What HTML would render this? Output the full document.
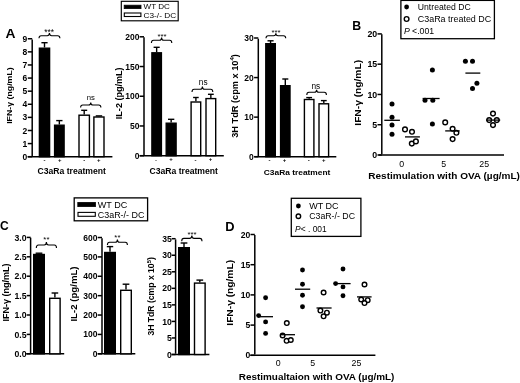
<!DOCTYPE html>
<html lang="en"><head><meta charset="utf-8"><title>Figure</title>
<style>html,body{margin:0;padding:0;background:#fff;}svg{display:block;}text{font-family:"Liberation Sans", sans-serif;fill:#000;}</style></head><body>
<svg width="520" height="383" viewBox="0 0 520 383">
<rect x="0" y="0" width="520" height="383" fill="#fff"/>
<defs><filter id="soft" x="0" y="0" width="520" height="383" filterUnits="userSpaceOnUse"><feGaussianBlur stdDeviation="0.45"/></filter></defs>
<g filter="url(#soft)">
<text x="5.60" y="37.50" font-size="12.4" text-anchor="start" font-weight="bold" textLength="10" lengthAdjust="spacingAndGlyphs" >A</text>
<rect x="121.30" y="1.30" width="56.90" height="19.50" fill="#fff" stroke="#000" stroke-width="1.15"/>
<rect x="124.20" y="5.20" width="16.80" height="3.40" fill="#000" stroke="#000" stroke-width="0.8"/>
<rect x="124.30" y="13.00" width="16.60" height="3.50" fill="#fff" stroke="#000" stroke-width="1.1"/>
<text x="143.60" y="9.10" font-size="8.1" text-anchor="start" textLength="26.3" lengthAdjust="spacingAndGlyphs" >WT DC</text>
<text x="143.60" y="17.50" font-size="8.1" text-anchor="start" textLength="32.5" lengthAdjust="spacingAndGlyphs" >C3-/- DC</text>
<line x1="32.20" y1="39.45" x2="32.20" y2="156.00" stroke="#000" stroke-width="1.5"/>
<line x1="27.80" y1="156.70" x2="32.20" y2="156.70" stroke="#000" stroke-width="1.5"/>
<text x="27.30" y="159.76" font-size="8.5" text-anchor="end" font-weight="bold" >0</text>
<line x1="27.80" y1="143.59" x2="32.20" y2="143.59" stroke="#000" stroke-width="1.5"/>
<text x="27.30" y="146.65" font-size="8.5" text-anchor="end" font-weight="bold" >1</text>
<line x1="27.80" y1="130.49" x2="32.20" y2="130.49" stroke="#000" stroke-width="1.5"/>
<text x="27.30" y="133.55" font-size="8.5" text-anchor="end" font-weight="bold" >2</text>
<line x1="27.80" y1="117.38" x2="32.20" y2="117.38" stroke="#000" stroke-width="1.5"/>
<text x="27.30" y="120.44" font-size="8.5" text-anchor="end" font-weight="bold" >3</text>
<line x1="27.80" y1="104.28" x2="32.20" y2="104.28" stroke="#000" stroke-width="1.5"/>
<text x="27.30" y="107.34" font-size="8.5" text-anchor="end" font-weight="bold" >4</text>
<line x1="27.80" y1="91.17" x2="32.20" y2="91.17" stroke="#000" stroke-width="1.5"/>
<text x="27.30" y="94.23" font-size="8.5" text-anchor="end" font-weight="bold" >5</text>
<line x1="27.80" y1="78.07" x2="32.20" y2="78.07" stroke="#000" stroke-width="1.5"/>
<text x="27.30" y="81.13" font-size="8.5" text-anchor="end" font-weight="bold" >6</text>
<line x1="27.80" y1="64.96" x2="32.20" y2="64.96" stroke="#000" stroke-width="1.5"/>
<text x="27.30" y="68.02" font-size="8.5" text-anchor="end" font-weight="bold" >7</text>
<line x1="27.80" y1="51.86" x2="32.20" y2="51.86" stroke="#000" stroke-width="1.5"/>
<text x="27.30" y="54.92" font-size="8.5" text-anchor="end" font-weight="bold" >8</text>
<line x1="27.80" y1="38.75" x2="32.20" y2="38.75" stroke="#000" stroke-width="1.5"/>
<text x="27.30" y="41.81" font-size="8.5" text-anchor="end" font-weight="bold" >9</text>
<line x1="27.70" y1="156.70" x2="112.40" y2="156.70" stroke="#000" stroke-width="1.5"/>
<line x1="44.50" y1="42.70" x2="44.50" y2="47.50" stroke="#000" stroke-width="1.4"/>
<line x1="41.40" y1="42.70" x2="47.60" y2="42.70" stroke="#000" stroke-width="1.4"/>
<rect x="39.40" y="48.20" width="10.20" height="108.50" fill="#000" stroke="#000" stroke-width="1.4"/>
<line x1="59.35" y1="120.60" x2="59.35" y2="124.50" stroke="#000" stroke-width="1.4"/>
<line x1="56.20" y1="120.60" x2="62.50" y2="120.60" stroke="#000" stroke-width="1.4"/>
<rect x="54.60" y="125.20" width="9.50" height="31.50" fill="#000" stroke="#000" stroke-width="1.4"/>
<line x1="84.20" y1="110.30" x2="84.20" y2="114.50" stroke="#000" stroke-width="1.4"/>
<line x1="81.20" y1="110.30" x2="87.20" y2="110.30" stroke="#000" stroke-width="1.4"/>
<rect x="79.00" y="115.20" width="10.40" height="41.50" fill="#fff" stroke="#000" stroke-width="1.4"/>
<line x1="98.95" y1="115.90" x2="98.95" y2="116.30" stroke="#000" stroke-width="1.4"/>
<line x1="95.73" y1="115.90" x2="102.17" y2="115.90" stroke="#000" stroke-width="1.4"/>
<rect x="93.90" y="117.00" width="10.10" height="39.70" fill="#fff" stroke="#000" stroke-width="1.4"/>
<path d="M39.00,38.30 Q39.00,35.70 41.20,35.70 L47.25,35.70 Q49.45,35.70 49.45,33.10 Q49.45,35.70 51.65,35.70 L57.70,35.70 Q59.90,35.70 59.90,38.30" fill="none" stroke="#000" stroke-width="1.1"/>
<text x="49.20" y="34.70" font-size="8.5" text-anchor="middle" >***</text>
<path d="M80.60,107.60 Q80.60,105.00 82.80,105.00 L88.55,105.00 Q90.75,105.00 90.75,102.40 Q90.75,105.00 92.95,105.00 L98.70,105.00 Q100.90,105.00 100.90,107.60" fill="none" stroke="#000" stroke-width="1.1"/>
<text x="90.80" y="99.60" font-size="7.7" text-anchor="middle" >ns</text>
<text x="44.50" y="162.20" font-size="6.0" text-anchor="middle" font-weight="bold" fill="#333">-</text>
<text x="59.70" y="161.90" font-size="6.0" text-anchor="middle" font-weight="bold" fill="#333">+</text>
<text x="84.20" y="162.20" font-size="6.0" text-anchor="middle" font-weight="bold" fill="#333">-</text>
<text x="98.80" y="161.90" font-size="6.0" text-anchor="middle" font-weight="bold" fill="#333">+</text>
<text x="71.70" y="174.20" font-size="8.2" text-anchor="middle" font-weight="bold" textLength="68.5" lengthAdjust="spacingAndGlyphs" >C3aRa treatment</text>
<text x="12.40" y="95.60" font-size="7.9" text-anchor="middle" font-weight="bold" transform="rotate(-90 12.40 95.60)" textLength="56.5" lengthAdjust="spacingAndGlyphs" >IFN-γ (ng/mL)</text>
<line x1="144.00" y1="37.30" x2="144.00" y2="155.00" stroke="#000" stroke-width="1.5"/>
<line x1="139.60" y1="155.70" x2="144.00" y2="155.70" stroke="#000" stroke-width="1.5"/>
<text x="139.40" y="158.76" font-size="8.5" text-anchor="end" font-weight="bold" >0</text>
<line x1="139.60" y1="125.97" x2="144.00" y2="125.97" stroke="#000" stroke-width="1.5"/>
<text x="139.40" y="129.03" font-size="8.5" text-anchor="end" font-weight="bold" >50</text>
<line x1="139.60" y1="96.25" x2="144.00" y2="96.25" stroke="#000" stroke-width="1.5"/>
<text x="139.40" y="99.31" font-size="8.5" text-anchor="end" font-weight="bold" >100</text>
<line x1="139.60" y1="66.53" x2="144.00" y2="66.53" stroke="#000" stroke-width="1.5"/>
<text x="139.40" y="69.59" font-size="8.5" text-anchor="end" font-weight="bold" >150</text>
<line x1="139.60" y1="36.80" x2="144.00" y2="36.80" stroke="#000" stroke-width="1.5"/>
<text x="139.40" y="39.86" font-size="8.5" text-anchor="end" font-weight="bold" >200</text>
<line x1="139.80" y1="155.70" x2="223.80" y2="155.70" stroke="#000" stroke-width="1.5"/>
<line x1="156.65" y1="47.30" x2="156.65" y2="52.10" stroke="#000" stroke-width="1.4"/>
<line x1="153.60" y1="47.30" x2="159.70" y2="47.30" stroke="#000" stroke-width="1.4"/>
<rect x="151.90" y="52.80" width="9.50" height="102.90" fill="#000" stroke="#000" stroke-width="1.4"/>
<line x1="171.15" y1="119.30" x2="171.15" y2="122.50" stroke="#000" stroke-width="1.4"/>
<line x1="167.99" y1="119.30" x2="174.31" y2="119.30" stroke="#000" stroke-width="1.4"/>
<rect x="166.20" y="123.20" width="9.90" height="32.50" fill="#000" stroke="#000" stroke-width="1.4"/>
<line x1="195.90" y1="97.50" x2="195.90" y2="101.30" stroke="#000" stroke-width="1.4"/>
<line x1="193.10" y1="97.50" x2="198.70" y2="97.50" stroke="#000" stroke-width="1.4"/>
<rect x="191.10" y="102.00" width="9.60" height="53.70" fill="#fff" stroke="#000" stroke-width="1.4"/>
<line x1="210.85" y1="94.30" x2="210.85" y2="97.90" stroke="#000" stroke-width="1.4"/>
<line x1="207.95" y1="94.30" x2="213.75" y2="94.30" stroke="#000" stroke-width="1.4"/>
<rect x="206.00" y="98.60" width="9.70" height="57.10" fill="#fff" stroke="#000" stroke-width="1.4"/>
<path d="M151.40,43.00 Q151.40,40.20 153.60,40.20 L159.40,40.20 Q161.60,40.20 161.60,37.40 Q161.60,40.20 163.80,40.20 L169.60,40.20 Q171.80,40.20 171.80,43.00" fill="none" stroke="#000" stroke-width="1.1"/>
<text x="162.00" y="39.20" font-size="7.8" text-anchor="middle" >***</text>
<path d="M192.00,92.00 Q192.00,89.20 194.20,89.20 L200.20,89.20 Q202.40,89.20 202.40,86.40 Q202.40,89.20 204.60,89.20 L210.60,89.20 Q212.80,89.20 212.80,92.00" fill="none" stroke="#000" stroke-width="1.1"/>
<text x="203.20" y="85.00" font-size="8.3" text-anchor="middle" >ns</text>
<text x="155.90" y="161.60" font-size="6.0" text-anchor="middle" font-weight="bold" fill="#333">-</text>
<text x="171.00" y="161.30" font-size="6.0" text-anchor="middle" font-weight="bold" fill="#333">+</text>
<text x="195.60" y="161.60" font-size="6.0" text-anchor="middle" font-weight="bold" fill="#333">-</text>
<text x="210.60" y="161.30" font-size="6.0" text-anchor="middle" font-weight="bold" fill="#333">+</text>
<text x="183.70" y="174.30" font-size="8.2" text-anchor="middle" font-weight="bold" textLength="68.5" lengthAdjust="spacingAndGlyphs" >C3aRa treatment</text>
<text x="122.20" y="93.30" font-size="8.5" text-anchor="middle" font-weight="bold" transform="rotate(-90 122.20 93.30)" textLength="51.7" lengthAdjust="spacingAndGlyphs" >IL-2 (pg/mL)</text>
<line x1="258.30" y1="38.70" x2="258.30" y2="156.00" stroke="#000" stroke-width="1.5"/>
<line x1="254.10" y1="156.70" x2="258.30" y2="156.70" stroke="#000" stroke-width="1.5"/>
<text x="253.80" y="159.76" font-size="8.5" text-anchor="end" font-weight="bold" >0</text>
<line x1="254.10" y1="117.13" x2="258.30" y2="117.13" stroke="#000" stroke-width="1.5"/>
<text x="253.80" y="120.19" font-size="8.5" text-anchor="end" font-weight="bold" >10</text>
<line x1="254.10" y1="77.57" x2="258.30" y2="77.57" stroke="#000" stroke-width="1.5"/>
<text x="253.80" y="80.63" font-size="8.5" text-anchor="end" font-weight="bold" >20</text>
<line x1="254.10" y1="38.00" x2="258.30" y2="38.00" stroke="#000" stroke-width="1.5"/>
<text x="253.80" y="41.06" font-size="8.5" text-anchor="end" font-weight="bold" >30</text>
<line x1="254.30" y1="156.70" x2="336.30" y2="156.70" stroke="#000" stroke-width="1.4"/>
<line x1="270.55" y1="40.80" x2="270.55" y2="43.00" stroke="#000" stroke-width="1.4"/>
<line x1="267.50" y1="40.80" x2="273.60" y2="40.80" stroke="#000" stroke-width="1.4"/>
<rect x="265.80" y="43.70" width="9.50" height="113.00" fill="#000" stroke="#000" stroke-width="1.4"/>
<line x1="285.30" y1="79.00" x2="285.30" y2="85.00" stroke="#000" stroke-width="1.4"/>
<line x1="282.28" y1="79.00" x2="288.32" y2="79.00" stroke="#000" stroke-width="1.4"/>
<rect x="280.60" y="85.70" width="9.40" height="71.00" fill="#000" stroke="#000" stroke-width="1.4"/>
<line x1="309.15" y1="97.60" x2="309.15" y2="98.80" stroke="#000" stroke-width="1.4"/>
<line x1="306.25" y1="97.60" x2="312.05" y2="97.60" stroke="#000" stroke-width="1.4"/>
<rect x="304.40" y="99.50" width="9.50" height="57.20" fill="#fff" stroke="#000" stroke-width="1.4"/>
<line x1="323.80" y1="100.60" x2="323.80" y2="103.10" stroke="#000" stroke-width="1.4"/>
<line x1="320.90" y1="100.60" x2="326.70" y2="100.60" stroke="#000" stroke-width="1.4"/>
<rect x="319.00" y="103.80" width="9.60" height="52.90" fill="#fff" stroke="#000" stroke-width="1.4"/>
<path d="M266.00,38.20 Q266.00,35.70 268.20,35.70 L273.65,35.70 Q275.85,35.70 275.85,33.20 Q275.85,35.70 278.05,35.70 L283.50,35.70 Q285.70,35.70 285.70,38.20" fill="none" stroke="#000" stroke-width="1.1"/>
<text x="276.00" y="34.60" font-size="7.8" text-anchor="middle" >***</text>
<path d="M306.80,94.90 Q306.80,92.30 309.00,92.30 L314.40,92.30 Q316.60,92.30 316.60,89.70 Q316.60,92.30 318.80,92.30 L324.20,92.30 Q326.40,92.30 326.40,94.90" fill="none" stroke="#000" stroke-width="1.1"/>
<text x="315.80" y="88.90" font-size="8.3" text-anchor="middle" >ns</text>
<text x="269.50" y="162.20" font-size="6.0" text-anchor="middle" font-weight="bold" fill="#333">-</text>
<text x="284.40" y="161.90" font-size="6.0" text-anchor="middle" font-weight="bold" fill="#333">+</text>
<text x="308.80" y="162.20" font-size="6.0" text-anchor="middle" font-weight="bold" fill="#333">-</text>
<text x="323.80" y="161.90" font-size="6.0" text-anchor="middle" font-weight="bold" fill="#333">+</text>
<text x="297.10" y="174.50" font-size="8.1" text-anchor="middle" font-weight="bold" textLength="66.6" lengthAdjust="spacingAndGlyphs" >C3aRa treatment</text>
<text x="237.6" y="96" font-size="9.2" font-weight="bold" text-anchor="middle" textLength="83.6" lengthAdjust="spacingAndGlyphs" transform="rotate(-90 237.6 96)">3H TdR (cpm x 10<tspan font-size="6" dy="-3.2">4</tspan><tspan dy="3.2">)</tspan></text>
<text x="352.30" y="30.40" font-size="12.4" text-anchor="start" font-weight="bold" textLength="8.9" lengthAdjust="spacingAndGlyphs" >B</text>
<rect x="400.90" y="0.40" width="93.50" height="38.30" fill="#fff" stroke="#000" stroke-width="1.3"/>
<circle cx="406.60" cy="7.00" r="2.4" fill="#000"/>
<circle cx="406.60" cy="19.00" r="2.35" fill="#fff" stroke="#000" stroke-width="1.4"/>
<text x="417.80" y="10.20" font-size="8.7" text-anchor="start" textLength="52.9" lengthAdjust="spacingAndGlyphs" >Untreated DC</text>
<text x="417.80" y="21.80" font-size="8.7" text-anchor="start" textLength="73.4" lengthAdjust="spacingAndGlyphs" >C3aRa treated DC</text>
<text x="403.9" y="33.9" font-size="8.7" textLength="30.2" lengthAdjust="spacingAndGlyphs"><tspan font-style="italic">P</tspan> &lt;.001</text>
<line x1="381.80" y1="34.30" x2="381.80" y2="154.30" stroke="#000" stroke-width="1.5"/>
<line x1="377.50" y1="155.00" x2="381.80" y2="155.00" stroke="#000" stroke-width="1.5"/>
<text x="377.20" y="158.17" font-size="8.8" text-anchor="end" font-weight="bold" >0</text>
<line x1="377.50" y1="124.72" x2="381.80" y2="124.72" stroke="#000" stroke-width="1.5"/>
<text x="377.20" y="127.89" font-size="8.8" text-anchor="end" font-weight="bold" >5</text>
<line x1="377.50" y1="94.45" x2="381.80" y2="94.45" stroke="#000" stroke-width="1.5"/>
<text x="377.20" y="97.62" font-size="8.8" text-anchor="end" font-weight="bold" >10</text>
<line x1="377.50" y1="64.18" x2="381.80" y2="64.18" stroke="#000" stroke-width="1.5"/>
<text x="377.20" y="67.34" font-size="8.8" text-anchor="end" font-weight="bold" >15</text>
<line x1="377.50" y1="33.90" x2="381.80" y2="33.90" stroke="#000" stroke-width="1.5"/>
<text x="377.20" y="37.07" font-size="8.8" text-anchor="end" font-weight="bold" >20</text>
<line x1="378.60" y1="155.00" x2="504.00" y2="155.00" stroke="#000" stroke-width="1.4"/>
<circle cx="392.00" cy="104.00" r="2.5" fill="#000"/>
<circle cx="392.00" cy="117.20" r="2.5" fill="#000"/>
<circle cx="392.00" cy="125.00" r="2.5" fill="#000"/>
<circle cx="392.00" cy="134.20" r="2.5" fill="#000"/>
<circle cx="405.00" cy="129.40" r="2.35" fill="#fff" stroke="#000" stroke-width="1.4"/>
<circle cx="412.00" cy="131.80" r="2.35" fill="#fff" stroke="#000" stroke-width="1.4"/>
<circle cx="411.80" cy="143.60" r="2.35" fill="#fff" stroke="#000" stroke-width="1.4"/>
<circle cx="415.90" cy="141.40" r="2.35" fill="#fff" stroke="#000" stroke-width="1.4"/>
<circle cx="432.40" cy="70.00" r="2.5" fill="#000"/>
<circle cx="425.00" cy="100.20" r="2.5" fill="#000"/>
<circle cx="432.80" cy="100.20" r="2.5" fill="#000"/>
<circle cx="432.40" cy="124.00" r="2.5" fill="#000"/>
<circle cx="445.20" cy="122.40" r="2.35" fill="#fff" stroke="#000" stroke-width="1.4"/>
<circle cx="452.60" cy="128.80" r="2.35" fill="#fff" stroke="#000" stroke-width="1.4"/>
<circle cx="456.40" cy="132.80" r="2.35" fill="#fff" stroke="#000" stroke-width="1.4"/>
<circle cx="452.60" cy="139.10" r="2.35" fill="#fff" stroke="#000" stroke-width="1.4"/>
<circle cx="465.40" cy="61.20" r="2.5" fill="#000"/>
<circle cx="472.50" cy="61.20" r="2.5" fill="#000"/>
<circle cx="476.90" cy="83.30" r="2.5" fill="#000"/>
<circle cx="472.50" cy="88.40" r="2.5" fill="#000"/>
<circle cx="493.00" cy="113.60" r="2.35" fill="#fff" stroke="#000" stroke-width="1.4"/>
<circle cx="489.20" cy="120.10" r="2.35" fill="#fff" stroke="#000" stroke-width="1.4"/>
<circle cx="496.80" cy="120.10" r="2.35" fill="#fff" stroke="#000" stroke-width="1.4"/>
<circle cx="493.00" cy="125.10" r="2.35" fill="#fff" stroke="#000" stroke-width="1.4"/>
<line x1="384.30" y1="120.30" x2="399.90" y2="120.30" stroke="#000" stroke-width="1.3"/>
<line x1="405.00" y1="136.90" x2="419.90" y2="136.90" stroke="#000" stroke-width="1.3"/>
<line x1="422.60" y1="98.50" x2="439.60" y2="98.50" stroke="#000" stroke-width="1.3"/>
<line x1="445.20" y1="130.90" x2="459.70" y2="130.90" stroke="#000" stroke-width="1.3"/>
<line x1="465.40" y1="73.10" x2="480.30" y2="73.10" stroke="#000" stroke-width="1.3"/>
<line x1="486.00" y1="120.10" x2="500.20" y2="120.10" stroke="#000" stroke-width="1.3"/>
<text x="401.60" y="167.00" font-size="8.8" text-anchor="middle" >0</text>
<text x="443.80" y="167.00" font-size="8.8" text-anchor="middle" >5</text>
<text x="484.20" y="167.00" font-size="8.8" text-anchor="middle" >25</text>
<text x="368.30" y="179.20" font-size="9.9" text-anchor="start" font-weight="bold" textLength="151.6" lengthAdjust="spacingAndGlyphs" >Restimulation with OVA (µg/mL)</text>
<text x="361.00" y="92.80" font-size="9.6" text-anchor="middle" font-weight="bold" transform="rotate(-90 361.00 92.80)" textLength="65.8" lengthAdjust="spacingAndGlyphs" >IFN-γ (ng/mL)</text>
<text x="0.00" y="230.30" font-size="12.6" text-anchor="start" font-weight="bold" textLength="8.7" lengthAdjust="spacingAndGlyphs" >C</text>
<rect x="74.20" y="197.90" width="73.40" height="22.90" fill="#fff" stroke="#000" stroke-width="1.3"/>
<rect x="77.80" y="202.50" width="17.60" height="4.10" fill="#000" stroke="#000" stroke-width="0.8"/>
<rect x="78.00" y="212.40" width="17.30" height="3.90" fill="#fff" stroke="#000" stroke-width="1.1"/>
<text x="97.80" y="208.00" font-size="8.6" text-anchor="start" textLength="29.4" lengthAdjust="spacingAndGlyphs" >WT DC</text>
<text x="97.80" y="217.80" font-size="8.6" text-anchor="start" textLength="46.6" lengthAdjust="spacingAndGlyphs" >C3aR-/- DC</text>
<line x1="30.60" y1="237.70" x2="30.60" y2="353.10" stroke="#000" stroke-width="1.5"/>
<line x1="26.70" y1="353.80" x2="30.60" y2="353.80" stroke="#000" stroke-width="1.5"/>
<text x="26.60" y="356.93" font-size="8.7" text-anchor="end" font-weight="bold" >0.0</text>
<line x1="26.70" y1="334.40" x2="30.60" y2="334.40" stroke="#000" stroke-width="1.5"/>
<text x="26.60" y="337.53" font-size="8.7" text-anchor="end" font-weight="bold" >0.5</text>
<line x1="26.70" y1="315.00" x2="30.60" y2="315.00" stroke="#000" stroke-width="1.5"/>
<text x="26.60" y="318.13" font-size="8.7" text-anchor="end" font-weight="bold" >1.0</text>
<line x1="26.70" y1="295.60" x2="30.60" y2="295.60" stroke="#000" stroke-width="1.5"/>
<text x="26.60" y="298.73" font-size="8.7" text-anchor="end" font-weight="bold" >1.5</text>
<line x1="26.70" y1="276.20" x2="30.60" y2="276.20" stroke="#000" stroke-width="1.5"/>
<text x="26.60" y="279.33" font-size="8.7" text-anchor="end" font-weight="bold" >2.0</text>
<line x1="26.70" y1="256.80" x2="30.60" y2="256.80" stroke="#000" stroke-width="1.5"/>
<text x="26.60" y="259.93" font-size="8.7" text-anchor="end" font-weight="bold" >2.5</text>
<line x1="26.70" y1="237.40" x2="30.60" y2="237.40" stroke="#000" stroke-width="1.5"/>
<text x="26.60" y="240.53" font-size="8.7" text-anchor="end" font-weight="bold" >3.0</text>
<line x1="26.20" y1="353.80" x2="64.20" y2="353.80" stroke="#000" stroke-width="1.5"/>
<line x1="39.00" y1="253.20" x2="39.00" y2="253.80" stroke="#000" stroke-width="1.4"/>
<line x1="35.64" y1="253.20" x2="42.36" y2="253.20" stroke="#000" stroke-width="1.4"/>
<rect x="33.70" y="254.50" width="10.60" height="99.30" fill="#000" stroke="#000" stroke-width="1.4"/>
<line x1="54.90" y1="293.00" x2="54.90" y2="297.60" stroke="#000" stroke-width="1.4"/>
<line x1="51.60" y1="293.00" x2="58.20" y2="293.00" stroke="#000" stroke-width="1.4"/>
<rect x="49.70" y="298.30" width="10.40" height="55.50" fill="#fff" stroke="#000" stroke-width="1.4"/>
<path d="M36.30,248.00 Q36.30,245.00 38.50,245.00 L44.20,245.00 Q46.40,245.00 46.40,242.00 Q46.40,245.00 48.60,245.00 L54.30,245.00 Q56.50,245.00 56.50,248.00" fill="none" stroke="#000" stroke-width="1.1"/>
<text x="46.40" y="242.20" font-size="7.8" text-anchor="middle" >**</text>
<text x="8.90" y="292.60" font-size="8.8" text-anchor="middle" font-weight="bold" transform="rotate(-90 8.90 292.60)" textLength="58" lengthAdjust="spacingAndGlyphs" >IFN-γ (ng/mL)</text>
<line x1="102.00" y1="238.20" x2="102.00" y2="353.10" stroke="#000" stroke-width="1.5"/>
<line x1="97.70" y1="353.80" x2="102.00" y2="353.80" stroke="#000" stroke-width="1.5"/>
<text x="97.40" y="356.86" font-size="8.5" text-anchor="end" font-weight="bold" >0</text>
<line x1="97.70" y1="334.42" x2="102.00" y2="334.42" stroke="#000" stroke-width="1.5"/>
<text x="97.40" y="337.48" font-size="8.5" text-anchor="end" font-weight="bold" >100</text>
<line x1="97.70" y1="315.04" x2="102.00" y2="315.04" stroke="#000" stroke-width="1.5"/>
<text x="97.40" y="318.10" font-size="8.5" text-anchor="end" font-weight="bold" >200</text>
<line x1="97.70" y1="295.66" x2="102.00" y2="295.66" stroke="#000" stroke-width="1.5"/>
<text x="97.40" y="298.72" font-size="8.5" text-anchor="end" font-weight="bold" >300</text>
<line x1="97.70" y1="276.28" x2="102.00" y2="276.28" stroke="#000" stroke-width="1.5"/>
<text x="97.40" y="279.34" font-size="8.5" text-anchor="end" font-weight="bold" >400</text>
<line x1="97.70" y1="256.90" x2="102.00" y2="256.90" stroke="#000" stroke-width="1.5"/>
<text x="97.40" y="259.96" font-size="8.5" text-anchor="end" font-weight="bold" >500</text>
<line x1="97.70" y1="237.52" x2="102.00" y2="237.52" stroke="#000" stroke-width="1.5"/>
<text x="97.40" y="240.58" font-size="8.5" text-anchor="end" font-weight="bold" >600</text>
<line x1="97.80" y1="353.80" x2="135.30" y2="353.80" stroke="#000" stroke-width="1.5"/>
<line x1="110.00" y1="246.60" x2="110.00" y2="251.80" stroke="#000" stroke-width="1.4"/>
<line x1="106.80" y1="246.60" x2="113.20" y2="246.60" stroke="#000" stroke-width="1.4"/>
<rect x="104.70" y="252.50" width="10.60" height="101.30" fill="#000" stroke="#000" stroke-width="1.4"/>
<line x1="126.00" y1="284.20" x2="126.00" y2="289.60" stroke="#000" stroke-width="1.4"/>
<line x1="122.64" y1="284.20" x2="129.36" y2="284.20" stroke="#000" stroke-width="1.4"/>
<rect x="120.70" y="290.30" width="10.60" height="63.50" fill="#fff" stroke="#000" stroke-width="1.4"/>
<path d="M107.40,245.00 Q107.40,242.20 109.60,242.20 L115.20,242.20 Q117.40,242.20 117.40,239.40 Q117.40,242.20 119.60,242.20 L125.20,242.20 Q127.40,242.20 127.40,245.00" fill="none" stroke="#000" stroke-width="1.1"/>
<text x="117.40" y="240.30" font-size="7.8" text-anchor="middle" >**</text>
<text x="77.00" y="294.00" font-size="8.9" text-anchor="middle" font-weight="bold" transform="rotate(-90 77.00 294.00)" textLength="55.2" lengthAdjust="spacingAndGlyphs" >IL-2 (pg/mL)</text>
<line x1="175.60" y1="239.40" x2="175.60" y2="353.80" stroke="#000" stroke-width="1.5"/>
<line x1="171.70" y1="354.50" x2="175.60" y2="354.50" stroke="#000" stroke-width="1.5"/>
<text x="171.80" y="357.60" font-size="8.6" text-anchor="end" font-weight="bold" >0</text>
<line x1="171.70" y1="337.96" x2="175.60" y2="337.96" stroke="#000" stroke-width="1.5"/>
<text x="171.80" y="341.05" font-size="8.6" text-anchor="end" font-weight="bold" >5</text>
<line x1="171.70" y1="321.41" x2="175.60" y2="321.41" stroke="#000" stroke-width="1.5"/>
<text x="171.80" y="324.51" font-size="8.6" text-anchor="end" font-weight="bold" >10</text>
<line x1="171.70" y1="304.87" x2="175.60" y2="304.87" stroke="#000" stroke-width="1.5"/>
<text x="171.80" y="307.97" font-size="8.6" text-anchor="end" font-weight="bold" >15</text>
<line x1="171.70" y1="288.33" x2="175.60" y2="288.33" stroke="#000" stroke-width="1.5"/>
<text x="171.80" y="291.42" font-size="8.6" text-anchor="end" font-weight="bold" >20</text>
<line x1="171.70" y1="271.79" x2="175.60" y2="271.79" stroke="#000" stroke-width="1.5"/>
<text x="171.80" y="274.88" font-size="8.6" text-anchor="end" font-weight="bold" >25</text>
<line x1="171.70" y1="255.24" x2="175.60" y2="255.24" stroke="#000" stroke-width="1.5"/>
<text x="171.80" y="258.34" font-size="8.6" text-anchor="end" font-weight="bold" >30</text>
<line x1="171.70" y1="238.70" x2="175.60" y2="238.70" stroke="#000" stroke-width="1.5"/>
<text x="171.80" y="241.80" font-size="8.6" text-anchor="end" font-weight="bold" >35</text>
<line x1="171.60" y1="354.50" x2="209.40" y2="354.50" stroke="#000" stroke-width="1.5"/>
<line x1="184.00" y1="243.00" x2="184.00" y2="247.00" stroke="#000" stroke-width="1.4"/>
<line x1="180.64" y1="243.00" x2="187.36" y2="243.00" stroke="#000" stroke-width="1.4"/>
<rect x="178.70" y="247.70" width="10.60" height="106.80" fill="#000" stroke="#000" stroke-width="1.4"/>
<line x1="199.80" y1="280.10" x2="199.80" y2="282.40" stroke="#000" stroke-width="1.4"/>
<line x1="196.44" y1="280.10" x2="203.16" y2="280.10" stroke="#000" stroke-width="1.4"/>
<rect x="194.50" y="283.10" width="10.60" height="71.40" fill="#fff" stroke="#000" stroke-width="1.4"/>
<path d="M181.70,241.20 Q181.70,238.40 183.90,238.40 L189.65,238.40 Q191.85,238.40 191.85,235.60 Q191.85,238.40 194.05,238.40 L199.80,238.40 Q202.00,238.40 202.00,241.20" fill="none" stroke="#000" stroke-width="1.1"/>
<text x="192.00" y="236.50" font-size="7.8" text-anchor="middle" >***</text>
<text x="154.0" y="296.4" font-size="9.2" font-weight="bold" text-anchor="middle" textLength="78.3" lengthAdjust="spacingAndGlyphs" transform="rotate(-90 154.0 296.4)">3H TdR (cmp x 10<tspan font-size="6.2" dy="-3.4">5</tspan><tspan dy="3.4">)</tspan></text>
<text x="225.30" y="230.60" font-size="12.5" text-anchor="start" font-weight="bold" textLength="9.3" lengthAdjust="spacingAndGlyphs" >D</text>
<rect x="291.30" y="198.30" width="69.60" height="38.10" fill="#fff" stroke="#000" stroke-width="1.3"/>
<circle cx="298.40" cy="206.00" r="2.4" fill="#000"/>
<circle cx="298.40" cy="216.20" r="2.25" fill="#fff" stroke="#000" stroke-width="1.4"/>
<text x="309.20" y="208.80" font-size="8.8" text-anchor="start" textLength="29.4" lengthAdjust="spacingAndGlyphs" >WT DC</text>
<text x="309.20" y="219.00" font-size="8.8" text-anchor="start" textLength="45.8" lengthAdjust="spacingAndGlyphs" >C3aR-/- DC</text>
<text x="295.1" y="232.0" font-size="8.8" textLength="31.6" lengthAdjust="spacingAndGlyphs"><tspan font-style="italic">P</tspan>&lt; . 001</text>
<line x1="254.80" y1="235.10" x2="254.80" y2="354.60" stroke="#000" stroke-width="1.5"/>
<line x1="250.50" y1="355.30" x2="254.80" y2="355.30" stroke="#000" stroke-width="1.5"/>
<text x="250.40" y="358.40" font-size="8.6" text-anchor="end" font-weight="bold" >0</text>
<line x1="250.50" y1="325.10" x2="254.80" y2="325.10" stroke="#000" stroke-width="1.5"/>
<text x="250.40" y="328.20" font-size="8.6" text-anchor="end" font-weight="bold" >5</text>
<line x1="250.50" y1="294.90" x2="254.80" y2="294.90" stroke="#000" stroke-width="1.5"/>
<text x="250.40" y="298.00" font-size="8.6" text-anchor="end" font-weight="bold" >10</text>
<line x1="250.50" y1="264.70" x2="254.80" y2="264.70" stroke="#000" stroke-width="1.5"/>
<text x="250.40" y="267.80" font-size="8.6" text-anchor="end" font-weight="bold" >15</text>
<line x1="250.50" y1="234.50" x2="254.80" y2="234.50" stroke="#000" stroke-width="1.5"/>
<text x="250.40" y="237.60" font-size="8.6" text-anchor="end" font-weight="bold" >20</text>
<line x1="250.30" y1="355.30" x2="375.40" y2="355.30" stroke="#000" stroke-width="1.5"/>
<circle cx="265.60" cy="297.70" r="2.45" fill="#000"/>
<circle cx="258.60" cy="315.60" r="2.45" fill="#000"/>
<circle cx="265.60" cy="321.90" r="2.45" fill="#000"/>
<circle cx="265.60" cy="333.40" r="2.45" fill="#000"/>
<circle cx="286.80" cy="323.10" r="2.30" fill="#fff" stroke="#000" stroke-width="1.4"/>
<circle cx="282.60" cy="335.50" r="2.30" fill="#fff" stroke="#000" stroke-width="1.4"/>
<circle cx="286.60" cy="340.80" r="2.30" fill="#fff" stroke="#000" stroke-width="1.4"/>
<circle cx="290.80" cy="340.00" r="2.30" fill="#fff" stroke="#000" stroke-width="1.4"/>
<circle cx="302.50" cy="270.00" r="2.45" fill="#000"/>
<circle cx="302.50" cy="284.30" r="2.45" fill="#000"/>
<circle cx="302.50" cy="295.20" r="2.45" fill="#000"/>
<circle cx="302.50" cy="306.80" r="2.45" fill="#000"/>
<circle cx="323.60" cy="292.50" r="2.30" fill="#fff" stroke="#000" stroke-width="1.4"/>
<circle cx="320.40" cy="310.60" r="2.30" fill="#fff" stroke="#000" stroke-width="1.4"/>
<circle cx="326.90" cy="312.70" r="2.30" fill="#fff" stroke="#000" stroke-width="1.4"/>
<circle cx="323.60" cy="316.30" r="2.30" fill="#fff" stroke="#000" stroke-width="1.4"/>
<circle cx="343.00" cy="269.00" r="2.45" fill="#000"/>
<circle cx="335.60" cy="283.60" r="2.45" fill="#000"/>
<circle cx="343.00" cy="286.90" r="2.45" fill="#000"/>
<circle cx="343.00" cy="295.70" r="2.45" fill="#000"/>
<circle cx="364.50" cy="284.50" r="2.30" fill="#fff" stroke="#000" stroke-width="1.4"/>
<circle cx="361.20" cy="299.50" r="2.30" fill="#fff" stroke="#000" stroke-width="1.4"/>
<circle cx="367.70" cy="300.20" r="2.30" fill="#fff" stroke="#000" stroke-width="1.4"/>
<circle cx="364.50" cy="303.10" r="2.30" fill="#fff" stroke="#000" stroke-width="1.4"/>
<line x1="258.60" y1="316.70" x2="273.00" y2="316.70" stroke="#000" stroke-width="1.3"/>
<line x1="280.60" y1="334.70" x2="295.00" y2="334.70" stroke="#000" stroke-width="1.3"/>
<line x1="295.00" y1="289.20" x2="310.20" y2="289.20" stroke="#000" stroke-width="1.3"/>
<line x1="316.50" y1="308.00" x2="331.60" y2="308.00" stroke="#000" stroke-width="1.3"/>
<line x1="335.60" y1="283.60" x2="350.60" y2="283.60" stroke="#000" stroke-width="1.3"/>
<line x1="357.00" y1="296.90" x2="371.60" y2="296.90" stroke="#000" stroke-width="1.3"/>
<text x="278.30" y="366.40" font-size="8.8" text-anchor="middle" >0</text>
<text x="312.80" y="366.40" font-size="8.8" text-anchor="middle" >5</text>
<text x="356.50" y="366.40" font-size="8.8" text-anchor="middle" >25</text>
<text x="238.80" y="379.60" font-size="9.8" text-anchor="start" font-weight="bold" textLength="155.6" lengthAdjust="spacingAndGlyphs" >Restimualtaion with OVA (µg/mL)</text>
<text x="233.20" y="292.80" font-size="9.6" text-anchor="middle" font-weight="bold" transform="rotate(-90 233.20 292.80)" textLength="65.8" lengthAdjust="spacingAndGlyphs" >IFN-γ (ng/mL)</text>
</g>
</svg></body></html>
